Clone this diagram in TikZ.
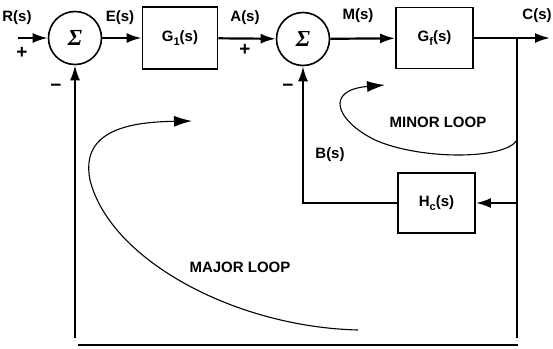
\documentclass[tikz,border=0pt]{standalone}
\usepackage{fontspec}
\setmainfont{Liberation Sans}
\newfontfamily\sigfont{Liberation Serif}
\usetikzlibrary{arrows.meta}
\begin{document}
\begin{tikzpicture}[x=1pt,y=-1pt,line width=2.2pt,
  >={Latex[length=15pt,width=10pt]},
  font=\bfseries\fontsize{15}{17}\selectfont]
\tikzset{
  sumnode/.style={circle,draw,line width=1.6pt,minimum size=53pt,inner sep=0pt,font=\sigfont\bfseries\itshape\fontsize{23}{24}\selectfont},
  block/.style={draw,line width=1.8pt,minimum width=75pt,minimum height=62pt,inner sep=0pt},
  lbl/.style={inner sep=0pt},
  signlbl/.style={inner sep=0pt,font=\bfseries\fontsize{19}{19}\selectfont},
  loopcurve/.style={line width=1.1pt,-{Latex[length=18pt,width=11pt]}}
}
\newcommand{\lowsub}[1]{\raisebox{-4pt}{\fontsize{11}{12}\selectfont #1}}
\useasboundingbox (0,0) rectangle (553,348);

% nodes
\node[sumnode] (s1) at (75,38) {Σ};
\node[block] (g1) at (180,38) {G\lowsub{1}(s)};
\node[sumnode] (s2) at (303,39) {Σ};
\node[block,minimum width=77pt,minimum height=61pt] (gf) at (434.5,38) {G\lowsub{f}(s)};
\node[block,minimum width=77pt,minimum height=60pt] (hc) at (436.5,203) {H\lowsub{c}(s)};

\coordinate (in) at (18,38);
\coordinate (br) at (517,38);
\coordinate (out) at (550,38);
\coordinate (rb) at (517,338);
\coordinate (hcfb) at (517,203);
\coordinate (lb) at (75,338);
\coordinate (bl) at (78,345);
\coordinate (br2) at (518,345);

% connectors
\draw[->] (in) -- (s1);
\draw[->] (s1) -- (g1);
\draw[->] (g1) -- (s2);
\draw[->] (s2) -- (gf);
\draw[->] (gf.east) -- (out);
\draw (br) -- (rb);
\draw[->] (hcfb) -- (hc.east);
\draw[->] (hc.west) -| (s2.south);
\draw[->] (lb) -- (s1.south);
\draw (bl) -- (br2);

% labels
\node[lbl] (lR) at (17,18) {R(s)};
\node[signlbl] (lp1) at (22,53) {+};
\node[signlbl] (lm1) at (56,88) {\textminus};
\node[lbl] (lE) at (120,18) {E(s)};
\node[lbl] (lA) at (245,18) {A(s)};
\node[signlbl] (lp2) at (245,50) {+};
\node[lbl] (lM) at (358,16) {M(s)};
\node[lbl] (lC) at (537,16) {C(s)};
\node[signlbl] (lm2) at (288,88) {\textminus};
\node[lbl] (lB) at (330,155) {B(s)};
\node[lbl] (lminor) at (438,122) {MINOR LOOP};
\node[lbl] (lmajor) at (240,267) {MAJOR LOOP};

% loop curves
\draw[loopcurve] (517,140) .. controls (505,160) and (420,160) .. (375,140)
  .. controls (335,120) and (325,90) .. (385,85);
\draw[loopcurve] (358,330) .. controls (235,327) and (110,260) .. (90,180)
  .. controls (80,130) and (130,122) .. (192,121);
\end{tikzpicture}
\end{document}
